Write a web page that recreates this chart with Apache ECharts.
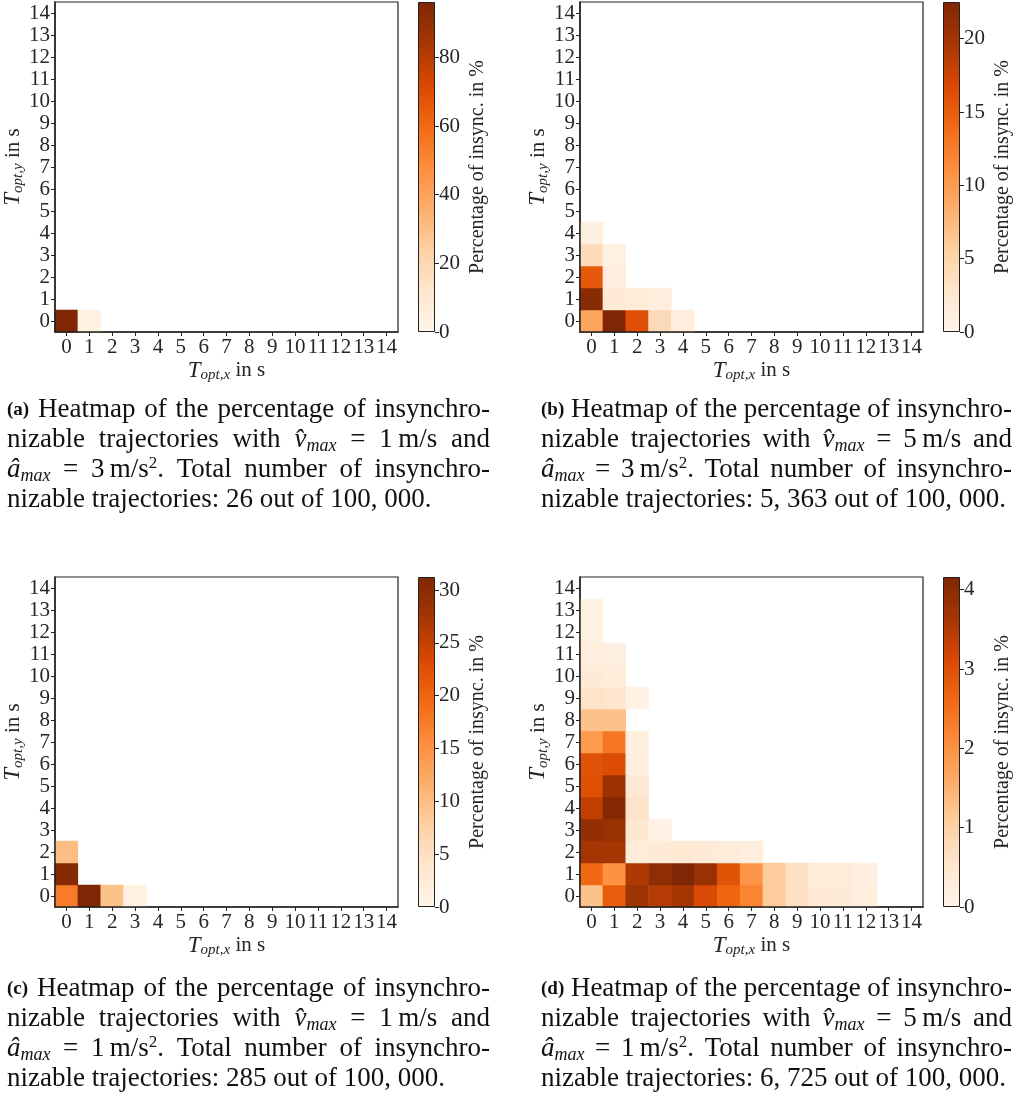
<!DOCTYPE html>
<html>
<head>
<meta charset="utf-8">
<script src="https://cdn.jsdelivr.net/npm/echarts@6/dist/echarts.min.js"></script>
<style>
  html, body { margin: 0; padding: 0; background: #ffffff; }
  #chart { width: 1016px; height: 1099px; }
</style>
</head>
<body>
<div id="chart"></div>
<script>
// Optimal-duration bins (seconds) shared by both axes of every heatmap
const steps = ['0','1','2','3','4','5','6','7','8','9','10','11','12','13','14'];

// Cells: [T_opt,x bin, T_opt,y bin, percentage of insynchronizable trajectories]
// (a) v_max = 1 m/s, a_max = 3 m/s^2, 26 trajectories
const cellsA = [[0,0,96.15],[1,0,3.85]];

// (b) v_max = 5 m/s, a_max = 3 m/s^2, 5,363 trajectories
const cellsB = [
  [0,0,9.2],[1,0,22.5],[2,0,16.3],[3,0,4.3],[4,0,1.3],
  [0,1,21.8],[1,1,2.2],[2,1,1.7],[3,1,1.4],
  [0,2,15.4],[1,2,1.3],
  [0,3,4.2],[1,3,0.9],
  [0,4,1.1]
];

// (c) v_max = 1 m/s, a_max = 1 m/s^2, 285 trajectories
const cellsC = [
  [0,0,17.54],[1,0,31.23],[2,0,9.47],[3,0,1.40],
  [0,1,30.53],
  [0,2,9.82]
];

// (d) v_max = 5 m/s, a_max = 1 m/s^2, 6,725 trajectories
const cellsD = [
  [0,0,1.25],[1,0,2.8],[2,0,3.75],[3,0,3.5],[4,0,3.65],[5,0,3.1],[6,0,2.65],[7,0,2.2],[8,0,1.1],[9,0,0.65],[10,0,0.38],[11,0,0.35],[12,0,0.25],
  [0,1,2.6],[1,1,2.0],[2,1,3.55],[3,1,3.95],[4,1,4.16],[5,1,3.8],[6,1,2.95],[7,1,1.95],[8,1,1.1],[9,1,0.62],[10,1,0.33],[11,1,0.32],[12,1,0.2],
  [0,2,3.65],[1,2,3.65],[2,2,0.3],[3,2,0.38],[4,2,0.43],[5,2,0.37],[6,2,0.3],[7,2,0.25],
  [0,3,3.9],[1,3,3.8],[2,3,0.5],[3,3,0.12],
  [0,4,3.35],[1,4,4.1],[2,4,0.58],
  [0,5,3.0],[1,5,3.78],[2,5,0.42],
  [0,6,2.95],[1,6,3.05],[2,6,0.25],
  [0,7,1.85],[1,7,2.4],[2,7,0.22],
  [0,8,1.25],[1,8,1.25],
  [0,9,0.6],[1,9,0.55],[2,9,0.15],
  [0,10,0.38],[1,10,0.28],
  [0,11,0.25],[1,11,0.2],
  [0,12,0.17],
  [0,13,0.17]
];

// Colour-bar tick labels
const barTicksA = [0,20,40,60,80];
const barTicksB = [0,5,10,15,20];
const barTicksC = [0,5,10,15,20,25,30];
const barTicksD = [0,1,2,3,4];

// Sub-figure captions (rich-text markup, one entry per line; U+2009 keeps
// a number and its unit together as one word)
const captionA = [
  '{tag|(a)} Heatmap of the percentage of insynchro-',
  'nizable trajectories with {mi|v̂}{sub|max} = 1\u2009m/s and',
  '{mi|â}{sub|max} = 3\u2009m/s{sup|2}. Total number of insynchro-',
  'nizable trajectories: 26 out of 100, 000.'
];
const captionB = [
  '{tag|(b)} Heatmap of the percentage of insynchro-',
  'nizable trajectories with {mi|v̂}{sub|max} = 5\u2009m/s and',
  '{mi|â}{sub|max} = 3\u2009m/s{sup|2}. Total number of insynchro-',
  'nizable trajectories: 5, 363 out of 100, 000.'
];
const captionC = [
  '{tag|(c)} Heatmap of the percentage of insynchro-',
  'nizable trajectories with {mi|v̂}{sub|max} = 1\u2009m/s and',
  '{mi|â}{sub|max} = 1\u2009m/s{sup|2}. Total number of insynchro-',
  'nizable trajectories: 285 out of 100, 000.'
];
const captionD = [
  '{tag|(d)} Heatmap of the percentage of insynchro-',
  'nizable trajectories with {mi|v̂}{sub|max} = 5\u2009m/s and',
  '{mi|â}{sub|max} = 1\u2009m/s{sup|2}. Total number of insynchro-',
  'nizable trajectories: 6, 725 out of 100, 000.'
];

// matplotlib "Oranges" colour map
const oranges = ['#fff5eb','#fee6ce','#fdd0a2','#fdae6b','#fd8d3c','#f16913','#d94801','#a63603','#7f2704'];

const SERIF = '"Liberation Serif", "DejaVu Serif", serif';
const INK = '#222222';
const TXT = '#262626';

const panels = [
  { cells: cellsA, ticks: barTicksA, left: 55,  top: 2,   caption: captionA, capX: 7,   capY: 395, capW: 483 },
  { cells: cellsB, ticks: barTicksB, left: 580, top: 2,   caption: captionB, capX: 541, capY: 395, capW: 471 },
  { cells: cellsC, ticks: barTicksC, left: 55,  top: 577, caption: captionC, capX: 7,   capY: 974, capW: 483 },
  { cells: cellsD, ticks: barTicksD, left: 580, top: 577, caption: captionD, capX: 541, capY: 974, capW: 471 }
];

const PLOT_W = 343, PLOT_H = 330, BAR_GAP = 20, BAR_W = 17;

function axisName(sub) {
  return {
    text: '{t|T}{s|' + sub + '} in s',
    style: {
      fontFamily: SERIF, fontSize: 21, color: TXT, lineHeight: 24,
      rich: {
        t: { fontFamily: SERIF, fontStyle: 'italic', fontSize: 23, lineHeight: 24, color: TXT },
        s: { fontFamily: SERIF, fontStyle: 'italic', fontSize: 15, lineHeight: 13, verticalAlign: 'bottom', color: TXT }
      }
    }
  };
}

// caption typography
const CAP_FONT = 27, CAP_LH = 30;
const capRich = {
  tag: { fontFamily: SERIF, fontWeight: 'bold', fontSize: 19, lineHeight: CAP_LH, fill: '#111111' },
  mi:  { fontFamily: SERIF, fontStyle: 'italic', fontSize: CAP_FONT, lineHeight: CAP_LH, fill: '#111111' },
  sub: { fontFamily: SERIF, fontStyle: 'italic', fontSize: 18, lineHeight: 14, verticalAlign: 'bottom', fill: '#111111' },
  sup: { fontFamily: SERIF, fontSize: 17, lineHeight: 15, verticalAlign: 'top', fill: '#111111' }
};
function capStyle(text) {
  return {
    text: text, fontFamily: SERIF, fontSize: CAP_FONT, lineHeight: CAP_LH,
    fill: '#111111', align: 'left', verticalAlign: 'top', rich: capRich
  };
}
function wordWidth(text) {
  const t = new echarts.graphic.Text({ style: capStyle(text) });
  return t.getBoundingRect().width;
}

// Lay out a caption as a justified paragraph: every line but the last is
// stretched to the column width by widening the gaps between words.
function captionElements(lines, x0, y0, colW) {
  const els = [];
  const spaceW = wordWidth('a a') - wordWidth('aa');
  lines.forEach((line, li) => {
    const words = line.split(' ');
    const widths = words.map(wordWidth);
    const total = widths.reduce((s, w) => s + w, 0);
    const last = li === lines.length - 1;
    const gap = (last || words.length < 2) ? spaceW : (colW - total) / (words.length - 1);
    let x = x0;
    words.forEach((w, wi) => {
      els.push({ type: 'text', x: x, y: y0 + li * CAP_LH, silent: true, style: capStyle(w) });
      x += widths[wi] + gap;
    });
  });
  return els;
}

const grids = [], xAxes = [], yAxes = [], series = [], visualMaps = [];
let graphics = [];

panels.forEach((p) => {
  const vmax = Math.max(...p.cells.map(c => c[2]));

  // heatmap grid
  const hg = grids.length;
  grids.push({
    left: p.left, top: p.top, width: PLOT_W, height: PLOT_H,
    show: true, borderColor: INK, borderWidth: 1.2, backgroundColor: 'transparent'
  });
  const xn = axisName('opt,x');
  xAxes.push({
    gridIndex: hg, type: 'category', data: steps, z: 10,
    axisLine: { show: true, lineStyle: { color: INK, width: 1.5 } },
    axisTick: { show: true, alignWithLabel: true, length: 4, lineStyle: { color: INK, width: 1 } },
    axisLabel: { color: TXT, fontFamily: SERIF, fontSize: 21, margin: 5, interval: 0 },
    splitLine: { show: false },
    name: xn.text, nameLocation: 'middle', nameGap: 24, nameTextStyle: xn.style
  });
  const yn = axisName('opt,y');
  yAxes.push({
    gridIndex: hg, type: 'category', data: steps, z: 10,
    axisLine: { show: true, lineStyle: { color: INK, width: 1.5 } },
    axisTick: { show: true, alignWithLabel: true, length: 4, lineStyle: { color: INK, width: 1 } },
    axisLabel: { color: TXT, fontFamily: SERIF, fontSize: 21, margin: 5, interval: 0 },
    splitLine: { show: false },
    name: yn.text, nameLocation: 'middle', nameRotate: 90, nameGap: 23, nameTextStyle: yn.style
  });
  const hs = series.length;
  series.push({
    type: 'heatmap', xAxisIndex: xAxes.length - 1, yAxisIndex: yAxes.length - 1,
    data: p.cells, silent: true, itemStyle: { borderWidth: 0 },
    emphasis: { disabled: true }
  });
  visualMaps.push({
    type: 'continuous', show: false, seriesIndex: hs, dimension: 2,
    min: 0, max: vmax, inRange: { color: oranges }
  });

  // colour bar
  const cg = grids.length;
  grids.push({ left: p.left + PLOT_W + BAR_GAP, top: p.top, width: BAR_W, height: PLOT_H });
  xAxes.push({ gridIndex: cg, type: 'category', data: ['bar'], show: false });
  yAxes.push({
    gridIndex: cg, type: 'value', min: 0, max: vmax, position: 'right',
    axisLine: { show: false },
    axisTick: { show: true, length: 4, customValues: p.ticks, lineStyle: { color: INK, width: 1 } },
    axisLabel: { color: TXT, fontFamily: SERIF, fontSize: 21, margin: 4, customValues: p.ticks },
    splitLine: { show: false },
    name: 'Percentage of insync. in %', nameLocation: 'middle', nameRotate: 90, nameGap: 33,
    nameTextStyle: { fontFamily: SERIF, fontSize: 20, color: TXT }
  });
  series.push({
    type: 'bar', xAxisIndex: xAxes.length - 1, yAxisIndex: yAxes.length - 1,
    data: [vmax], barWidth: '100%', silent: true,
    itemStyle: {
      color: {
        type: 'linear', x: 0, y: 1, x2: 0, y2: 0,
        colorStops: oranges.map((c, k) => ({ offset: k / (oranges.length - 1), color: c }))
      },
      borderColor: INK, borderWidth: 1
    }
  });

  // caption
  graphics = graphics.concat(captionElements(p.caption, p.capX, p.capY, p.capW));
});

const chart = echarts.init(document.getElementById('chart'), null, { renderer: 'canvas' });
chart.setOption({
  backgroundColor: '#ffffff',
  animation: false,
  grid: grids,
  xAxis: xAxes,
  yAxis: yAxes,
  visualMap: visualMaps,
  series: series,
  graphic: graphics
});
</script>
</body>
</html>
